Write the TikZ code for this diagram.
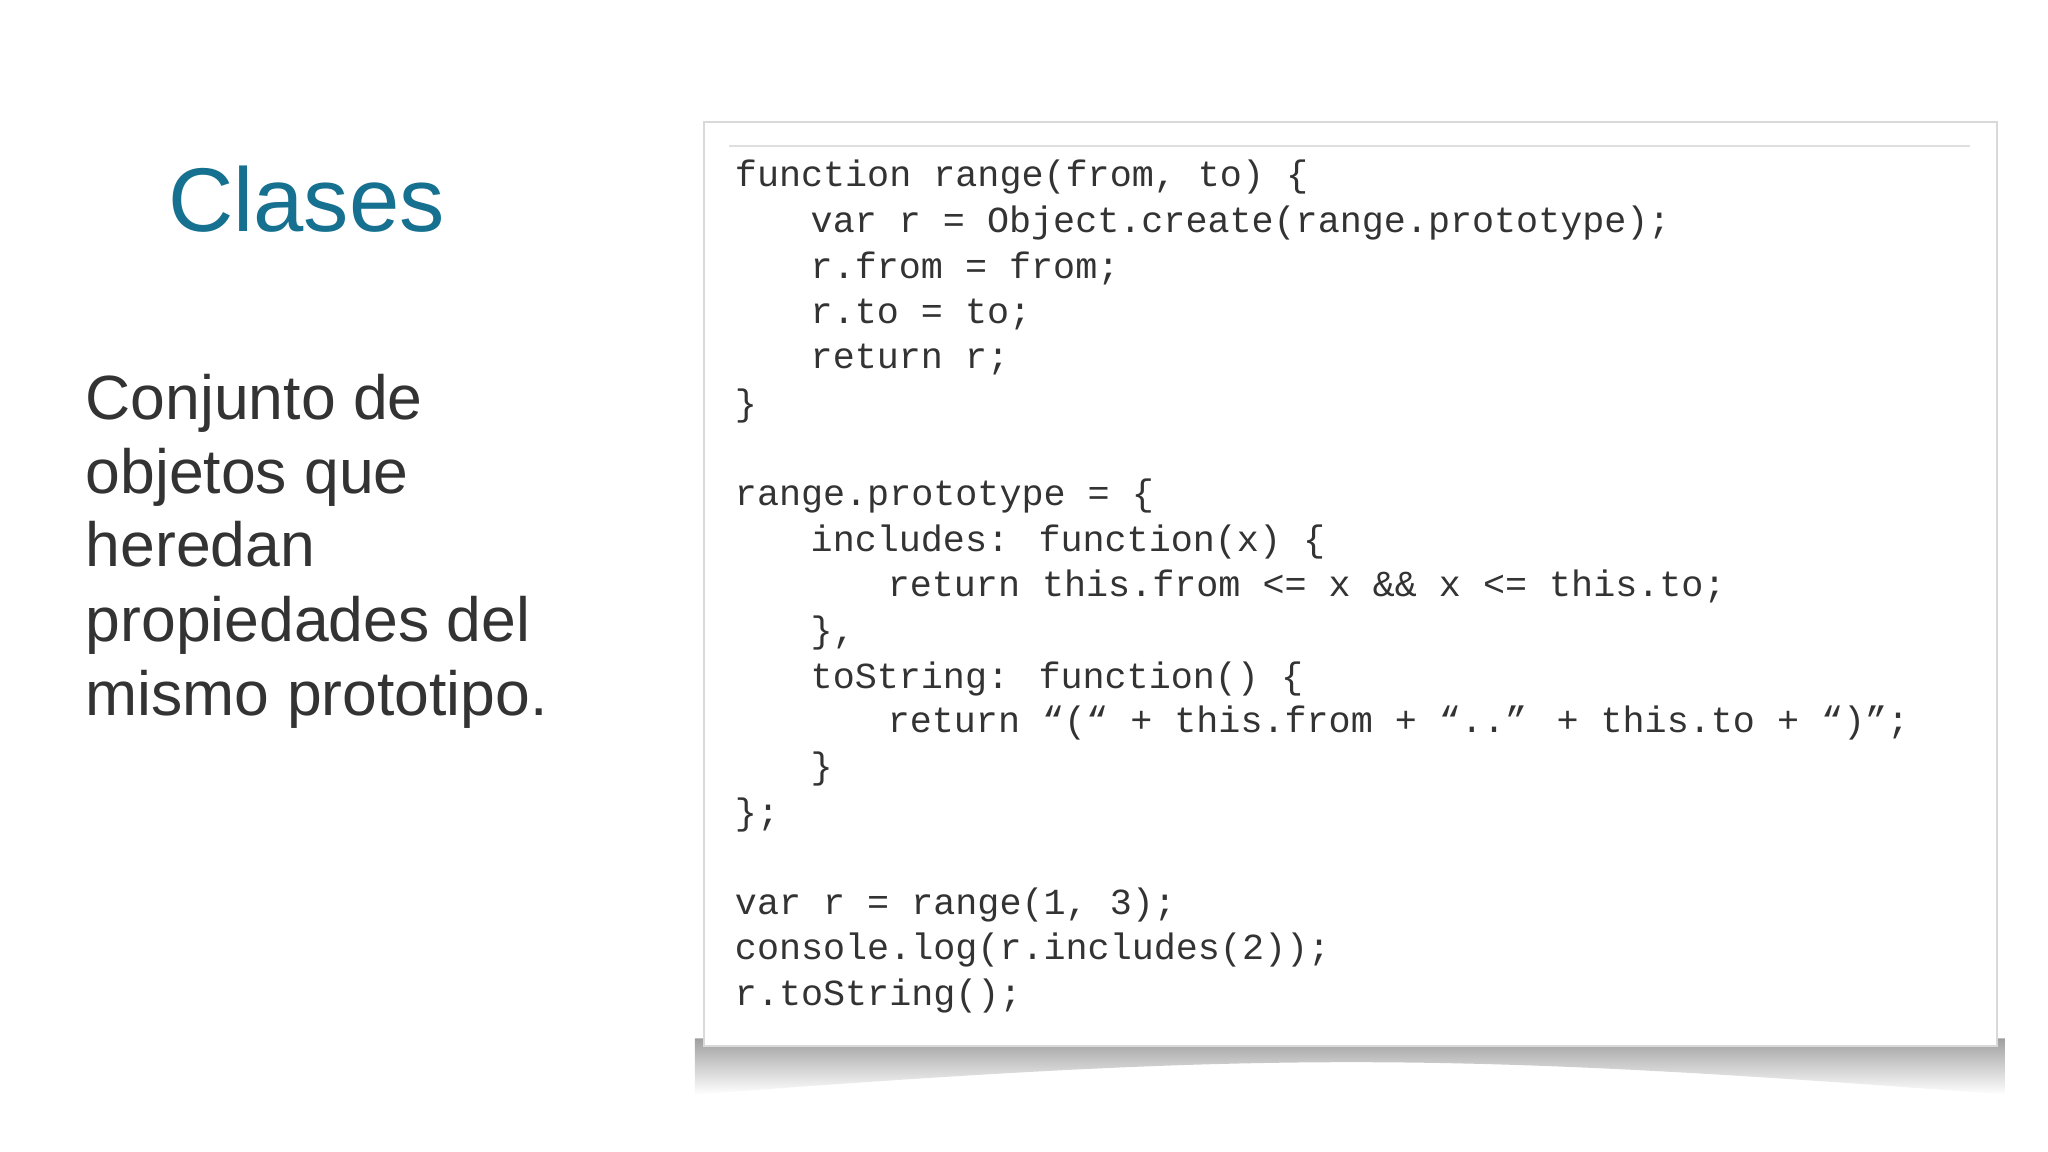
\documentclass[tikz,border=0pt]{standalone}
\usepackage{fontspec}
\setmainfont{Liberation Sans}
\newfontfamily\codefont{Liberation Mono}
\definecolor{teal1}{HTML}{16708F}
\definecolor{txt}{HTML}{333333}
\begin{document}
\begin{tikzpicture}[x=0.01cm,y=-0.01cm,
  code/.style={anchor=base west,inner sep=0,text=txt,font=\codefont\fontsize{8.0pt}{9pt}\selectfont},
  body/.style={anchor=base west,inner sep=0,text=txt,font=\fontsize{13.6pt}{16pt}\selectfont}]
\useasboundingbox (0,0) rectangle (1568,882);
\fill[white] (0,0) rectangle (1568,882);
% shadow
\shade[top color=gray!75,bottom color=white] (532,795) -- (1535,795) -- (1535,838) .. controls (1100,805) and (970,805) .. (532,838) -- cycle;
\node[draw=gray!30,fill=white,minimum width=990*0.01cm,minimum height=707*0.01cm,anchor=north west,inner sep=0] (box) at (538,93) {};
\draw[gray!25] (558,112) coordinate (ta) -- (1508,112) coordinate (tb);
\node[anchor=base west,inner sep=0,text=teal1,font=\fontsize{19.7pt}{22pt}\selectfont] (title) at (128,177) {Clases};
\node[body] (b1) at (65,321) {Conjunto de};
\node[body] (b2) at (65,378) {objetos que};
\node[body] (b3) at (65,434) {heredan};
\node[body] (b4) at (65,491) {propiedades del};
\node[body] (b5) at (65,548) {mismo prototipo.};
\def\xa{562}\def\xb{620}\def\xc{679}
\node[code] (c1) at (\xa,143) {function range(from, to) \{};
\node[code] (c2) at (\xb,178) {var r = Object.create(range.prototype);};
\node[code] (c3) at (\xb,213) {r.from = from;};
\node[code] (c4) at (\xb,248) {r.to = to;};
\node[code] (c5) at (\xb,282) {return r;};
\node[code] (c6) at (\xa,318) {\}};
\node[code] (c7) at (\xa,387) {range.prototype = \{};
\node[code] (c8) at (\xb,422) {includes: function(x) \{};
\node[code] (c9) at (\xc,457) {return this.from <= x \&\& x <= this.to;};
\node[code] (c10) at (\xb,492) {\},};
\node[code] (c11) at (\xb,527) {toString: function() \{};
\node[code] (c12) at (\xc,561) {return “(“ + this.from + “..” + this.to + “)”;};
\node[code] (c13) at (\xb,596) {\}};
\node[code] (c14) at (\xa,631) {\};};
\node[code] (c15) at (\xa,700) {var r = range(1, 3);};
\node[code] (c16) at (\xa,735) {console.log(r.includes(2));};
\node[code] (c17) at (\xa,770) {r.toString();};
\end{tikzpicture}
\end{document}
